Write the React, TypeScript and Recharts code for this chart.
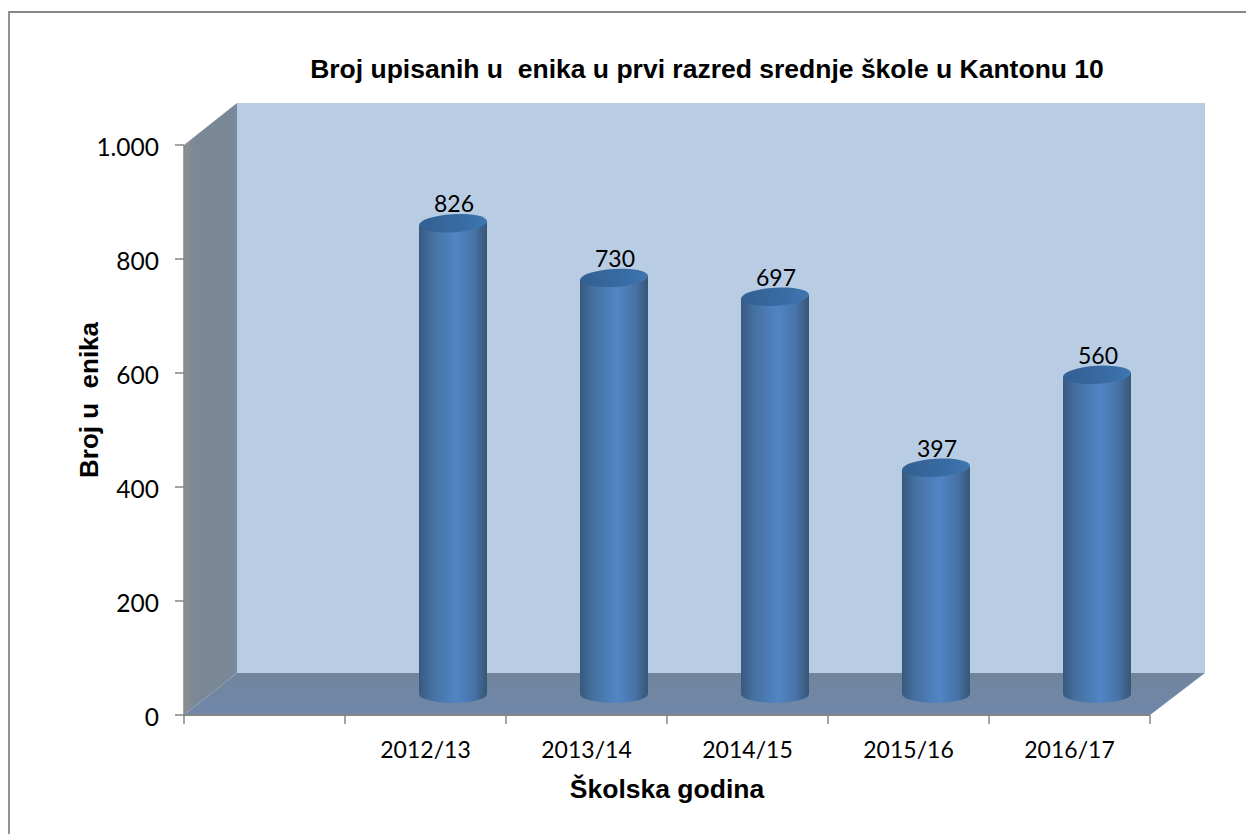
import React from 'react';
import { BarChart, Bar, XAxis, YAxis, ReferenceArea, LabelList } from 'recharts';

const categories = ['', '2012/13', '2013/14', '2014/15', '2015/16', '2016/17'];
const students = [null, 826, 730, 697, 397, 560];
const yTicks = [0, 200, 400, 600, 800, 1000];

const data = categories.map((name, i) => ({ name, value: students[i] }));

// depth of the fake 3D box
const DEPTH_X = 53;
const DEPTH_Y = 42;
// bars stand in the middle of the floor
const BAR_DX = 27;
const BAR_DY = 21;
const SLOT = 161;

const axisColor = '#868686';
const labelFont = 'Lato, sans-serif';
const titleFont = '"Liberation Sans", Arial, sans-serif';

const Walls = (props: any) => {
  const { x, y, width, height } = props;
  const b = y + height;
  const r = x + width;
  return (
    <g>
      <polygon points={`${x + DEPTH_X},${y - DEPTH_Y} ${r + DEPTH_X + 2},${y - DEPTH_Y} ${r + DEPTH_X + 2},${b - DEPTH_Y} ${x + DEPTH_X},${b - DEPTH_Y}`} fill="#b8cce4" />
      <polygon points={`${x},${y} ${x + DEPTH_X},${y - DEPTH_Y} ${x + DEPTH_X},${b - DEPTH_Y} ${x},${b}`} fill="url(#sideWall)" />
      <polygon points={`${x},${b} ${x + DEPTH_X},${b - DEPTH_Y} ${r + DEPTH_X + 2},${b - DEPTH_Y} ${r},${b}`} fill="url(#floor)" />
    </g>
  );
};

const Cylinder = (props: any) => {
  const { x, y, width, height, value } = props;
  if (value == null) return null;
  const rx = width / 2;
  const ry = 9;
  const cx = x + rx + BAR_DX;
  const top = y - BAR_DY;
  const bottom = y + height - BAR_DY;
  return (
    <g>
      <path
        d={`M${cx - rx},${top + 2} L${cx - rx},${bottom} A${rx},${ry} 0 0 0 ${cx + rx},${bottom} L${cx + rx},${top - 2} Z`}
        fill="url(#barBody)"
      />
      <ellipse cx={cx} cy={top} rx={rx} ry={ry} fill="url(#barTop)" transform={`rotate(-3.5 ${cx} ${top})`} />
    </g>
  );
};

const BarValue = (props: any) => {
  const { x, y, width, value } = props;
  if (value == null) return null;
  return (
    <text x={x + width / 2 + BAR_DX + 1} y={y - 32} textAnchor="middle" fontFamily={labelFont} fontSize={23} fill="#000">
      {value}
    </text>
  );
};

const CategoryTick = (props: any) => {
  const { x, y, payload, index } = props;
  const top = y - 8;
  return (
    <g>
      <line x1={x - SLOT / 2} x2={x - SLOT / 2} y1={top} y2={top + 9} stroke={axisColor} strokeWidth={1.5} />
      {index === categories.length - 1 && (
        <line x1={x + SLOT / 2} x2={x + SLOT / 2} y1={top} y2={top + 9} stroke={axisColor} strokeWidth={1.5} />
      )}
      <text x={x} y={top + 43} textAnchor="middle" fontFamily={labelFont} fontSize={23} fill="#000">
        {payload.value}
      </text>
    </g>
  );
};

const formatThousands = (v: number) => (v >= 1000 ? v.toLocaleString('de-DE') : String(v));

const App: React.FC = () => {
  return (
    <div style={{ position: 'absolute', left: 0, top: 0, width: 1246, height: 834, background: '#fff', overflow: 'hidden' }}>
      <div style={{ position: 'absolute', left: 8, top: 11, width: 1238, height: 823, borderLeft: '2px solid #929292', borderTop: `2px solid ${axisColor}`, boxSizing: 'border-box' }} />
      <BarChart
        width={1246}
        height={834}
        data={data}
        barSize={68}
        margin={{ top: 145, right: 96, bottom: 19, left: 124 }}
        style={{ position: 'absolute', left: 0, top: 0 }}
      >
        <defs>
          <linearGradient id="barBody" x1="0" x2="1" y1="0" y2="0">
            <stop offset="0" stopColor="#38597f" />
            <stop offset="0.18" stopColor="#44709f" />
            <stop offset="0.55" stopColor="#5285c6" />
            <stop offset="0.82" stopColor="#4672a6" />
            <stop offset="1" stopColor="#375674" />
          </linearGradient>
          <linearGradient id="barTop" x1="0" x2="1" y1="0" y2="0">
            <stop offset="0" stopColor="#335f92" />
            <stop offset="0.7" stopColor="#396da5" />
            <stop offset="1" stopColor="#3f77b0" />
          </linearGradient>
          <linearGradient id="sideWall" x1="0" x2="1" y1="0" y2="0">
            <stop offset="0" stopColor="#8b8f94" />
            <stop offset="0.2" stopColor="#7b8897" />
            <stop offset="0.8" stopColor="#7a8795" />
            <stop offset="1" stopColor="#788a9f" />
          </linearGradient>
          <linearGradient id="floor" x1="0" x2="0" y1="0" y2="1">
            <stop offset="0" stopColor="#71859c" />
            <stop offset="1" stopColor="#6f87aa" />
          </linearGradient>
        </defs>
        <ReferenceArea y1={0} y2={1000} ifOverflow="visible" shape={<Walls />} />
        <XAxis
          dataKey="name"
          interval={0}
          height={100}
          axisLine={{ stroke: axisColor, strokeWidth: 2 }}
          tickLine={false}
          tick={<CategoryTick />}
          label={{ value: 'Školska godina', position: 'insideBottom', offset: 17, fontFamily: titleFont, fontWeight: 700, fontSize: 26.5, fill: '#000' }}
        />
        <YAxis
          width={60}
          domain={[0, 1000]}
          ticks={yTicks}
          tickFormatter={formatThousands}
          axisLine={{ stroke: axisColor, strokeWidth: 1.5 }}
          tickLine={{ stroke: axisColor, strokeWidth: 1.5 }}
          tickSize={9}
          tickMargin={16}
          tick={{ fontFamily: labelFont, fontSize: 24.5, fill: '#000', dy: 2 }}
        />
        <Bar dataKey="value" shape={<Cylinder />} isAnimationActive={false}>
          <LabelList dataKey="value" content={<BarValue />} />
        </Bar>
        <text x={707} y={78} textAnchor="middle" fontFamily={titleFont} fontWeight={700} fontSize={26.5} fill="#000" style={{ whiteSpace: 'pre' }}>
          Broj upisanih u  enika u prvi razred srednje škole u Kantonu 10
        </text>
        <text transform="translate(98 400) rotate(-90)" textAnchor="middle" fontFamily={titleFont} fontWeight={700} fontSize={26} fill="#000" style={{ whiteSpace: 'pre' }}>
          Broj u  enika
        </text>
      </BarChart>
    </div>
  );
};

export default App;
